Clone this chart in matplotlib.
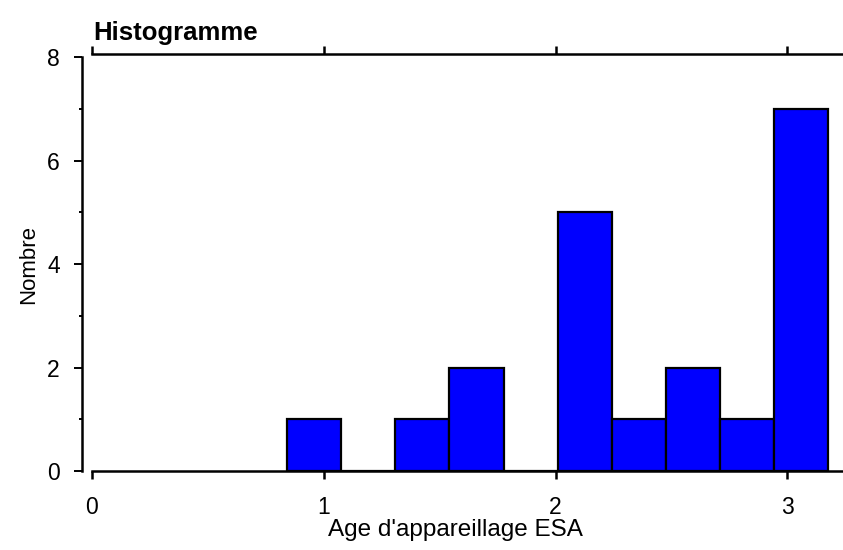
import matplotlib
matplotlib.use("Agg")
import matplotlib.pyplot as plt
from matplotlib.ticker import MultipleLocator

plt.rcParams['font.family'] = ['Liberation Sans', 'DejaVu Sans']

# histogram bins
bin_edges = [0.842, 1.075, 1.309, 1.542, 1.776, 2.009, 2.243, 2.476, 2.710, 2.943, 3.177]
counts = [1, 0, 1, 2, 0, 5, 1, 2, 1, 7]
x_ticks = [0, 1, 2, 3]
y_ticks = [0, 2, 4, 6, 8]

fig = plt.figure(figsize=(8.43, 5.5), dpi=100)
ax = fig.add_axes([0.109, 0.1436, 0.891, 0.7527])

widths = [b - a for a, b in zip(bin_edges[:-1], bin_edges[1:])]
ax.bar(bin_edges[:-1], counts, width=widths, align='edge',
       color='#0000FF', edgecolor='black', linewidth=1.6, zorder=2)

ax.set_xlim(0, 3.24)
ax.set_ylim(0, 8)
ax.set_xticks(x_ticks)
ax.set_yticks(y_ticks)
ax.yaxis.set_minor_locator(MultipleLocator(1))

ax.spines['right'].set_visible(False)
ax.spines['left'].set_position(('outward', 7))
ax.spines['top'].set_position(('outward', 2))
for s in ['left', 'top', 'bottom']:
    ax.spines[s].set_linewidth(1.8)
ax.spines['bottom'].set_zorder(3)

ax.tick_params(axis='x', which='both', top=True, bottom=True, direction='out',
               length=6, width=1.8, labelsize=16.5, pad=12)
ax.tick_params(axis='y', which='major', direction='out', length=6, width=1.4,
               labelsize=16.5, pad=10)
ax.tick_params(axis='y', which='minor', direction='out', length=2.5, width=1.4)

ax.set_xlabel("Age d'appareillage ESA", fontsize=17.5, labelpad=0)
ax.xaxis.set_label_coords(0.484, -0.115)
ax.set_ylabel("Nombre", fontsize=16, labelpad=6)
ax.set_title("Histogramme", fontsize=18.5, fontweight='bold', loc='left',
             pad=12, x=0.002)

fig.savefig("out.png", dpi=100)
